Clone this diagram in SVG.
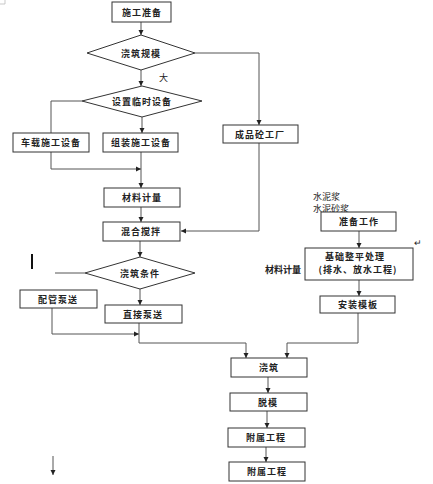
<svg xmlns="http://www.w3.org/2000/svg" width="433" height="484" viewBox="0 0 433 484">
<defs>
<marker id="ah" markerWidth="6" markerHeight="6" refX="5" refY="3" orient="auto" markerUnits="userSpaceOnUse">
<path d="M0,0.5 L5,3 L0,5.5 Z" fill="#222"/>
</marker>
<style>
.box{fill:#fff;stroke:#333;stroke-width:1}
.t{font-family:"Noto Sans CJK SC","Noto Sans CJK JP",sans-serif;font-size:9px;font-weight:bold;fill:#222;text-anchor:middle;letter-spacing:1px}
.f{font-family:"Noto Sans CJK SC","Noto Sans CJK JP",sans-serif;font-size:9px;fill:#222}
.c{fill:none;stroke:#555;stroke-width:1}
.ca{fill:none;stroke:#555;stroke-width:1;marker-end:url(#ah)}
</style>
</defs>
<rect width="433" height="484" fill="#fff"/>
<path d="M0,4 H5 V0" fill="none" stroke="#bbb" stroke-width="0.8"/>

<g id="connectors">
<path class="ca" d="M141,22 V35"/>
<path class="ca" d="M195,53 H259 V125"/>
<path class="ca" d="M141,70 V86"/>
<path class="c" d="M82,101 H51 V133"/>
<path class="ca" d="M142,117 V133"/>
<path class="ca" d="M51,152 V169 H141"/>
<path class="ca" d="M141,152 V188"/>
<path class="ca" d="M141,207 V222"/>
<path class="ca" d="M259,143 V231 H181"/>
<path class="ca" d="M140,241 V257"/>
<path class="c" d="M55,273 H85"/>
<path class="ca" d="M140,289 V305"/>
<path class="ca" d="M52,308 V334 H139"/>
<path class="ca" d="M139,323 V343 H246 V358"/>
<path class="ca" d="M359,231 V248"/>
<path class="ca" d="M359,280 V296"/>
<path class="ca" d="M358,313 V343 H287 V358"/>
<path class="ca" d="M268,377 V393"/>
<path class="ca" d="M267,411 V428"/>
<path class="ca" d="M266,447 V462"/>
<path class="ca" d="M53,456 V475" stroke="#222"/>
<path d="M32,254 V269" stroke="#111" stroke-width="2"/>
</g>

<g id="n_prep"><rect class="box" x="112" y="2" width="59" height="20"/><text class="t" x="142" y="15.5">施工准备</text></g>
<g id="n_scale"><polygon class="box" points="141,35 195,53 141,70 87,53"/><text class="t" x="141" y="56.5">浇筑规模</text></g>
<text class="f" x="159" y="81">大</text>
<g id="n_temp"><polygon class="box" points="142,86 202,101 142,117 82,101"/><text class="t" x="142" y="104.5" letter-spacing="0">设置临时设备</text></g>
<g id="n_truck"><rect class="box" x="13" y="133" width="76" height="19"/><text class="t" x="51" y="146">车载施工设备</text></g>
<g id="n_assm"><rect class="box" x="103" y="133" width="75" height="19"/><text class="t" x="141" y="146">组装施工设备</text></g>
<g id="n_plant"><rect class="box" x="223" y="125" width="75" height="18"/><text class="t" x="260" y="137.5">成品砼工厂</text></g>
<g id="n_meas"><rect class="box" x="104" y="188" width="76" height="19"/><text class="t" x="142" y="201" letter-spacing="2">材料计量</text></g>
<g id="n_mix"><rect class="box" x="103" y="222" width="77" height="19"/><text class="t" x="141" y="235" letter-spacing="2">混合搅拌</text></g>
<g id="n_cond"><polygon class="box" points="140,257 195,273 140,289 85,273"/><text class="t" x="140" y="276.5">浇筑条件</text></g>
<g id="n_pipe"><rect class="box" x="20" y="290" width="77" height="18"/><text class="t" x="58" y="302.5">配管泵送</text></g>
<g id="n_direct"><rect class="box" x="105" y="305" width="77" height="18"/><text class="t" x="143" y="317.5">直接泵送</text></g>

<text class="f" x="313" y="200">水泥浆</text>
<text class="f" x="313" y="212">水泥砂浆</text>
<g id="n_ready"><rect class="box" x="321" y="212" width="75" height="19"/><text class="t" x="359" y="225">准备工作</text></g>
<g id="n_base"><rect class="box" x="305" y="248" width="108" height="32"/><text class="t" x="355" y="259.5" text-anchor="middle">基础整平处理</text><text class="t" x="358" y="273" letter-spacing="0.5">(排水、放水工程)</text></g>
<text class="f" x="265" y="273" font-weight="bold">材料计量</text>
<text class="f" x="414" y="246" fill="#999" font-size="8">↵</text>
<g id="n_form"><rect class="box" x="320" y="296" width="75" height="17"/><text class="t" x="358" y="308">安装模板</text></g>

<g id="n_pour"><rect class="box" x="231" y="358" width="76" height="19"/><text class="t" x="269" y="371">浇筑</text></g>
<g id="n_demold"><rect class="box" x="230" y="393" width="77" height="18"/><text class="t" x="268" y="405.5">脱模</text></g>
<g id="n_aux1"><rect class="box" x="228" y="428" width="77" height="19"/><text class="t" x="266" y="441">附属工程</text></g>
<g id="n_aux2"><rect class="box" x="229" y="462" width="76" height="19"/><text class="t" x="267" y="475">附属工程</text></g>
</svg>
